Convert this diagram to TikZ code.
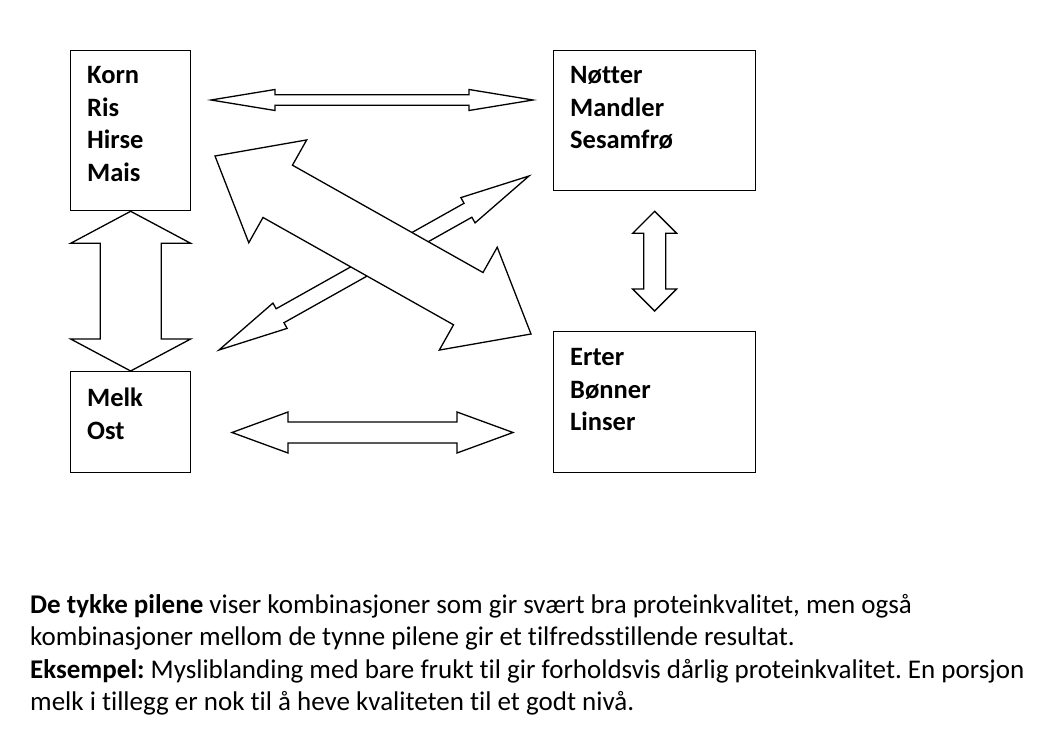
\documentclass[tikz,border=0pt]{standalone}
\usepackage{fontspec}
\setmainfont[Ligatures=NoCommon]{Carlito}
\usetikzlibrary{calc,positioning}
\frenchspacing

\newcommand{\dblarrow}[5]{%
  \path ($(#1)!#5!(#2)$) coordinate (ha) ($(#2)!#5!(#1)$) coordinate (hb);
  \draw[blockarrow] (#1) -- ($(ha)!#4!90:(#2)$) -- ($(ha)!#3!90:(#2)$)
    -- ($(hb)!#3!-90:(#1)$) -- ($(hb)!#4!-90:(#1)$) -- (#2)
    -- ($(hb)!#4!90:(#1)$) -- ($(hb)!#3!90:(#1)$)
    -- ($(ha)!#3!-90:(#2)$) -- ($(ha)!#4!-90:(#2)$) -- cycle;
}

\begin{document}
\begin{tikzpicture}[x=1pt,y=-1pt,
  foodbox/.style={draw=black,line width=1.3pt,minimum width=#1,inner sep=0pt},
  foodtext/.style={anchor=north west,align=left,inner sep=0pt,
    font=\fontsize{26.5}{32.7}\selectfont\bfseries},
  blockarrow/.style={draw=black,fill=white,line width=1.3pt,line join=miter},
  caption/.style={anchor=north west,align=left,inner sep=0pt,
    font=\fontsize{27}{32.5}\selectfont}
]
  \useasboundingbox (0,0) rectangle (1050,751);

  \node[foodbox=120pt,minimum height=160pt,anchor=north west] (korn) at (70,50) {};
  \node[foodbox=202pt,minimum height=140pt,anchor=north west] (notter) at (553,50) {};
  \node[foodbox=120pt,minimum height=101pt,anchor=north west] (melk) at (70,371) {};
  \node[foodbox=202pt,minimum height=141pt,anchor=north west] (erter) at (553,331) {};

  \node[foodtext] (kornTxt) at ([shift={(17,16)}]korn.north west) {Korn\\Ris\\Hirse\\Mais};
  \node[foodtext] (notterTxt) at ([shift={(17,16)}]notter.north west) {Nøtter\\Mandler\\Sesamfrø};
  \node[foodtext] (melkTxt) at ([shift={(17,17)}]melk.north west) {Melk\\Ost};
  \node[foodtext] (erterTxt) at ([shift={(17,17)}]erter.north west) {Erter\\Bønner\\Linser};

  \coordinate (topL) at (211,100);
  \coordinate (topR) at (533,100);
  \coordinate (botL) at (232,432.5);
  \coordinate (botR) at (513,432.5);
  \coordinate (rightT) at ($(notter.south)+(0,20)$);
  \coordinate (rightB) at ($(erter.north)+(0,-20)$);
  \coordinate (thinA) at (219,350);
  \coordinate (thinB) at (529,176);
  \coordinate (thickA) at (215,156);
  \coordinate (thickB) at (531,334);

  \dblarrow{topL}{topR}{5.3pt}{10.5pt}{64pt}
  \dblarrow{botL}{botR}{10.5pt}{20.5pt}{56pt}
  \dblarrow{korn.south}{melk.north}{30.5pt}{60pt}{32pt}
  \dblarrow{rightT}{rightB}{11pt}{22pt}{22pt}
  \dblarrow{thinA}{thinB}{8pt}{14.5pt}{70pt}
  \dblarrow{thickA}{thickB}{30pt}{59pt}{72pt}

  \node[caption] (note) at (30,594)
    {\textbf{De tykke pilene} viser kombinasjoner som gir svært bra proteinkvalitet, men også\\
     kombinasjoner mellom de tynne pilene gir et tilfredsstillende resultat.\\
     \textbf{Eksempel:} Mysliblanding med bare frukt til gir forholdsvis dårlig proteinkvalitet. En porsjon\\
     melk i tillegg er nok til å heve kvaliteten til et godt nivå.};
\end{tikzpicture}
\end{document}
